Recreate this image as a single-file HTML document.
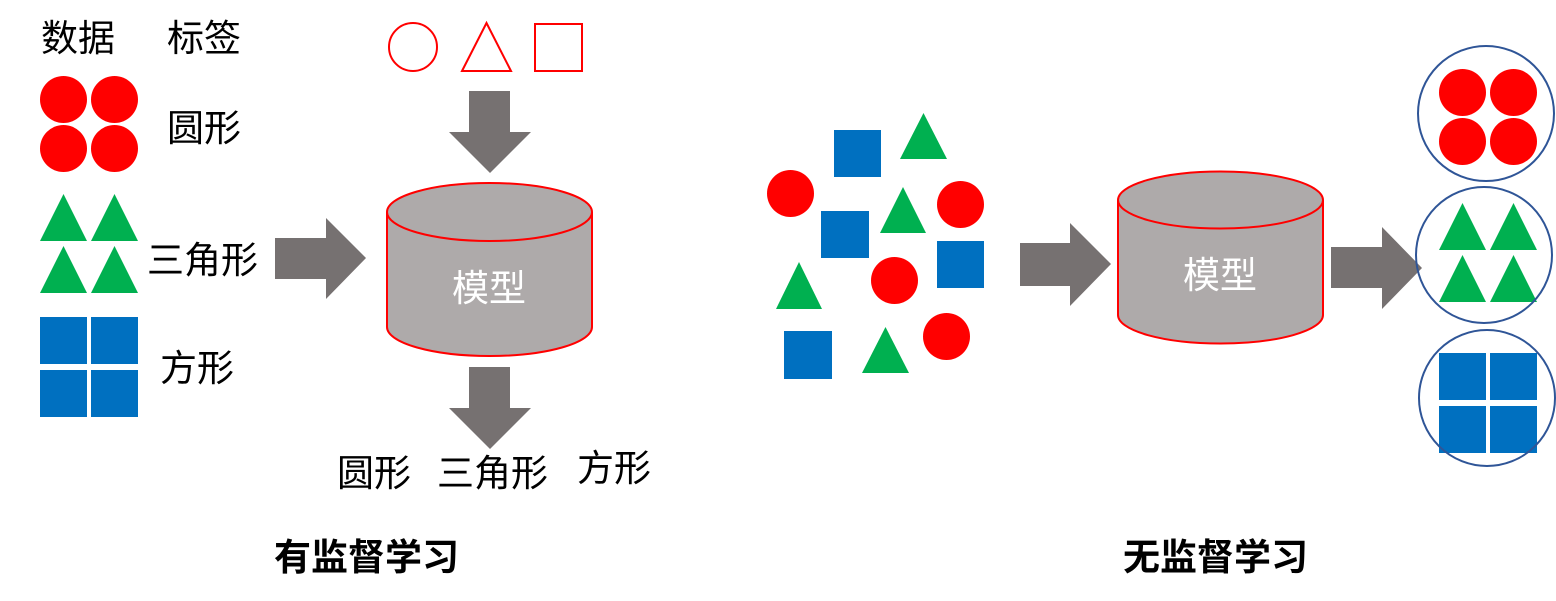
<!DOCTYPE html>
<html><head><meta charset="utf-8"><style>
html,body{margin:0;padding:0;background:#fff;width:1556px;height:601px;overflow:hidden}
text{font-family:"Liberation Sans","Noto Sans CJK SC",sans-serif}
</style></head><body>
<svg width="1556" height="601" viewBox="0 0 1556 601" xmlns="http://www.w3.org/2000/svg">
<!-- left labels -->
<g font-size="37" fill="#000">
<text x="41" y="51">数据</text>
<text x="167" y="51">标签</text>
<text x="167" y="141">圆形</text>
<text x="147" y="273">三角形</text>
<text x="160" y="381">方形</text>
<text x="337" y="486">圆形</text>
<text x="437" y="486">三角形</text>
<text x="577" y="481">方形</text>
</g>
<!-- left data -->
<g fill="#ff0000">
<ellipse cx="63.5" cy="99.5" rx="23.5" ry="23.5"/><ellipse cx="114.5" cy="99.5" rx="23.5" ry="23.5"/>
<ellipse cx="63.5" cy="148.5" rx="23.5" ry="23.5"/><ellipse cx="114.5" cy="148.5" rx="23.5" ry="23.5"/>
</g>
<g fill="#00b050">
<polygon points="40,241 63.5,194 87,241"/><polygon points="91,241 114.5,194 138,241"/>
<polygon points="40,293 63.5,246 87,293"/><polygon points="91,293 114.5,246 138,293"/>
</g>
<g fill="#0070c0">
<rect x="40" y="317" width="47" height="47"/><rect x="91" y="317" width="47" height="47"/>
<rect x="40" y="370" width="47" height="47"/><rect x="91" y="370" width="47" height="47"/>
</g>
<!-- red outlines -->
<g fill="none" stroke="#ff0000" stroke-width="2">
<ellipse cx="413" cy="47" rx="24" ry="24"/>
<polygon points="462,71 486.5,23 511,71"/>
<rect x="535" y="24" width="47" height="47"/>
</g>
<!-- arrows -->
<g fill="#767171">
<polygon points="469,91 510,91 510,132 531,132 490,173 449,132 469,132"/>
<polygon points="469,367 510,367 510,408 531,408 490,449 449,408 469,408"/>
<polygon points="275,238 326,238 326,218 366,258 326,299 326,279 275,279"/>
<polygon points="1020,243 1070,243 1070,223 1111,264 1070,306 1070,286 1020,286"/>
<polygon points="1331,247 1382,247 1382,227 1422,268 1382,309 1382,288 1331,288"/>
</g>
<!-- cylinder 1 -->
<path d="M387,212 L387,327 A102.5,29 0 0 0 592,327 L592,212" fill="#aeaaaa" stroke="#ff0000" stroke-width="2"/>
<ellipse cx="489.5" cy="212" rx="102.5" ry="29" fill="#aeaaaa" stroke="#ff0000" stroke-width="2"/>
<text x="489" y="301" font-size="37" fill="#fff" text-anchor="middle">模型</text>
<!-- cylinder 2 -->
<path d="M1118,200 L1118,315 A102.5,28.5 0 0 0 1323,315 L1323,200" fill="#aeaaaa" stroke="#ff0000" stroke-width="2"/>
<ellipse cx="1220.5" cy="200" rx="102.5" ry="28.5" fill="#aeaaaa" stroke="#ff0000" stroke-width="2"/>
<text x="1220" y="288" font-size="37" fill="#fff" text-anchor="middle">模型</text>
<!-- scattered -->
<g fill="#0070c0">
<rect x="834" y="130" width="47" height="47"/>
<rect x="821" y="211" width="48" height="47"/>
<rect x="937" y="241" width="47" height="47"/>
<rect x="784" y="331" width="48" height="48"/>
</g>
<g fill="#00b050">
<polygon points="900,159 923.5,113 947,159"/>
<polygon points="880,233 903,187 926,233"/>
<polygon points="776,309 799,262 822,309"/>
<polygon points="862,373 885.5,327 909,373"/>
</g>
<g fill="#ff0000">
<ellipse cx="790.5" cy="193.5" rx="23.5" ry="23.5"/>
<ellipse cx="960.5" cy="204.5" rx="23.5" ry="23.5"/>
<ellipse cx="894.5" cy="280.5" rx="23.5" ry="23.5"/>
<ellipse cx="946.5" cy="336.5" rx="23.5" ry="23.5"/>
</g>
<!-- clusters -->
<g fill="#ff0000">
<ellipse cx="1462.5" cy="92.5" rx="23.5" ry="23.5"/><ellipse cx="1513.5" cy="92.5" rx="23.5" ry="23.5"/>
<ellipse cx="1462.5" cy="141.5" rx="23.5" ry="23.5"/><ellipse cx="1513.5" cy="141.5" rx="23.5" ry="23.5"/>
</g>
<g fill="#00b050">
<polygon points="1439,250 1462.5,203 1486,250"/><polygon points="1490,250 1513.5,203 1537,250"/>
<polygon points="1439,302 1462.5,255 1486,302"/><polygon points="1490,302 1513.5,255 1537,302"/>
</g>
<g fill="#0070c0">
<rect x="1439" y="353" width="47" height="47"/><rect x="1490" y="353" width="47" height="47"/>
<rect x="1439" y="406" width="47" height="47"/><rect x="1490" y="406" width="47" height="47"/>
</g>
<g fill="none" stroke="#2f5597" stroke-width="2">
<ellipse cx="1486" cy="113.5" rx="68" ry="67.5"/>
<ellipse cx="1484" cy="255" rx="68" ry="68"/>
<ellipse cx="1487" cy="398" rx="68" ry="68"/>
</g>
<!-- titles -->
<text x="274" y="570" font-size="37" font-weight="bold" fill="#000">有监督学习</text>
<text x="1123" y="570" font-size="37" font-weight="bold" fill="#000">无监督学习</text>
</svg>
</body></html>
